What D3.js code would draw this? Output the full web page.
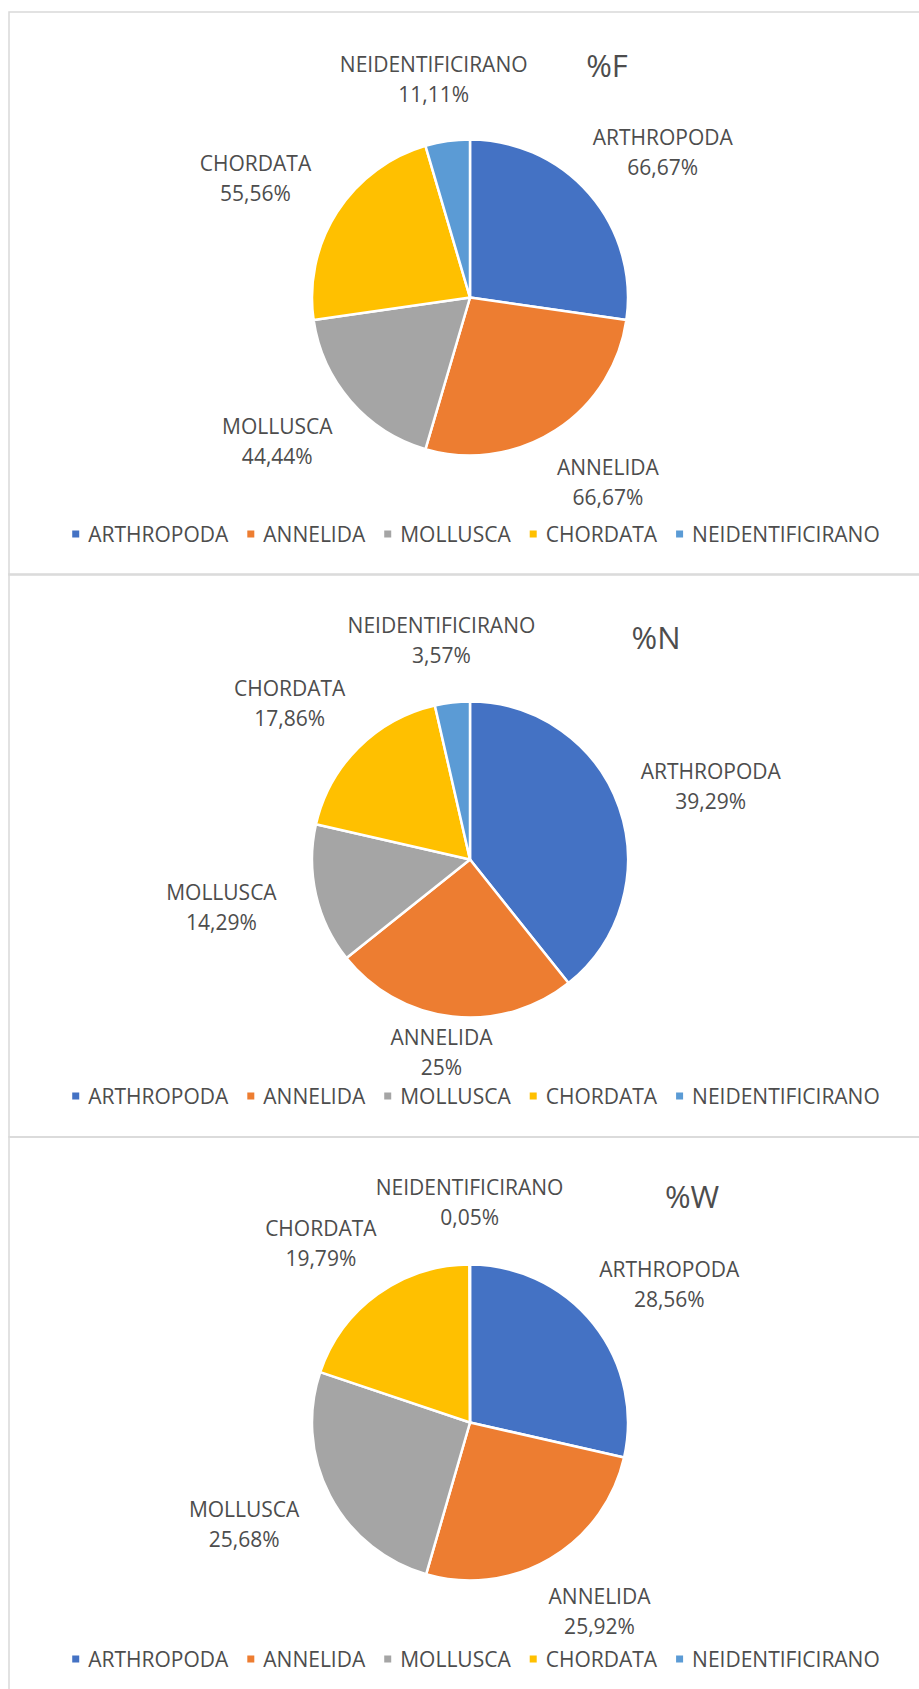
<!DOCTYPE html>
<html>
<head>
<meta charset="utf-8">
<script src="https://cdn.jsdelivr.net/npm/d3@7"></script>
<style>
  html, body { margin: 0; padding: 0; background: #fff; }
  svg { display: block; font-family: "Open Sans", sans-serif; }
</style>
</head>
<body>
<svg id="chart"></svg>
<script>
const w = 919;
const h = 1689;

const categories = ["ARTHROPODA", "ANNELIDA", "MOLLUSCA", "CHORDATA", "NEIDENTIFICIRANO"];
const valuesF = [66.67, 66.67, 44.44, 55.56, 11.11];
const valuesN = [39.29, 25, 14.29, 17.86, 3.57];
const valuesW = [28.56, 25.92, 25.68, 19.79, 0.05];
const titles = ["%F", "%N", "%W"];
const colors = ["#4472C4", "#ED7D31", "#A5A5A5", "#FFC000", "#5B9BD5"];

// layout of the three stacked chart boxes
const panelTop = [12, 574, 1137];
const panelH = 563;
const titlePos = [[607, 77], [656, 649], [692, 1208]]; // title centre x, baseline y
const pieCx = 470;
const pieDy = 285.5;
const radius = 158;
const legendDy = 522;
const textColor = "#4d4d4d";

const svg = d3.select("#chart")
  .attr("width", w)
  .attr("height", h)
  .attr("viewBox", [0, 0, w, h]);

const color = d3.scaleOrdinal().domain(categories).range(colors);
const fmt = v => String(v).replace(".", ",") + "%";

const pie = d3.pie().sort(null).value(d => d.value);
const arc = d3.arc().innerRadius(0).outerRadius(radius);

[valuesF, valuesN, valuesW].forEach((vals, i) => {
  const top = panelTop[i];
  const g = svg.append("g");

  // chart box border
  g.append("rect")
    .attr("x", 9)
    .attr("y", top)
    .attr("width", w + 20)
    .attr("height", panelH)
    .attr("fill", "none")
    .attr("stroke", "#d9d9d9")
    .attr("stroke-width", 1.5);

  g.append("text")
    .attr("x", titlePos[i][0])
    .attr("y", titlePos[i][1])
    .attr("text-anchor", "middle")
    .attr("font-size", 31)
    .attr("fill", textColor)
    .text(titles[i]);

  const data = categories.map((c, j) => ({ name: c, value: vals[j] }));
  const arcs = pie(data);
  const cy = top + pieDy;

  const pg = g.append("g").attr("transform", `translate(${pieCx},${cy})`);
  pg.selectAll("path")
    .data(arcs)
    .enter()
    .append("path")
    .attr("d", arc)
    .attr("fill", d => color(d.data.name))
    .attr("stroke", "#fff")
    .attr("stroke-width", 2.5)
    .attr("stroke-linejoin", "round");

  // data labels outside the pie along each slice's middle angle,
  // kept clear of the legend row
  const maxY = legendDy - pieDy - 43;
  const lab = pg.selectAll("text.lab")
    .data(arcs)
    .enter()
    .append("text")
    .attr("class", "lab")
    .attr("text-anchor", "middle")
    .attr("font-size", 21)
    .attr("fill", textColor)
    .attr("transform", d => {
      const a = (d.startAngle + d.endAngle) / 2;
      const ly = Math.min(-Math.cos(a) * 220, maxY);
      return `translate(${Math.sin(a) * 255},${ly})`;
    });
  lab.append("tspan").attr("x", 0).attr("y", -8).text(d => d.data.name);
  lab.append("tspan").attr("x", 0).attr("y", 22).text(d => fmt(d.data.value));

  // legend
  const lg = g.append("g");
  const items = lg.selectAll("g")
    .data(categories)
    .enter()
    .append("g");
  items.append("rect")
    .attr("width", 7)
    .attr("height", 7)
    .attr("y", -3.5)
    .attr("fill", d => color(d));
  items.append("text")
    .attr("x", 16)
    .attr("y", 7.5)
    .attr("font-size", 21)
    .attr("fill", textColor)
    .text(d => d);
  let x = 0;
  items.each(function() {
    const t = d3.select(this).select("text").node().getComputedTextLength();
    d3.select(this).attr("transform", `translate(${x},0)`);
    x += 16 + t + 19;
  });
  const total = x - 19;
  lg.attr("transform", `translate(${476 - total / 2},${top + legendDy})`);
});
</script>
</body>
</html>
